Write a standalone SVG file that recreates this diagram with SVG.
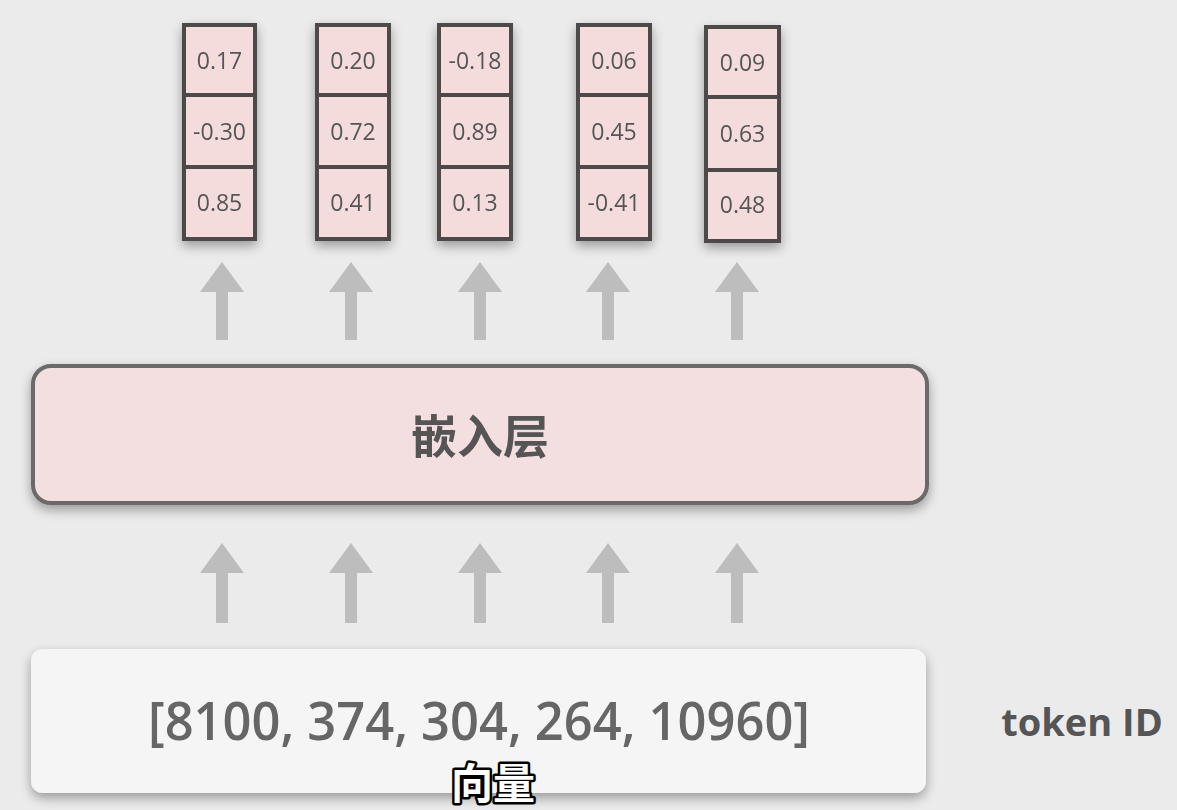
<svg xmlns="http://www.w3.org/2000/svg" width="1177" height="810" viewBox="0 0 1177 810">
<defs>
<filter id="sh" x="-20%" y="-20%" width="140%" height="150%">
<feGaussianBlur in="SourceAlpha" stdDeviation="6"/>
<feOffset dx="0" dy="5" result="b"/>
<feComponentTransfer><feFuncA type="linear" slope="0.35"/></feComponentTransfer>
<feMerge><feMergeNode/><feMergeNode in="SourceGraphic"/></feMerge>
</filter>
</defs>
<style>
.cell{fill:#f4dcdc;stroke:#4d4a4a;stroke-width:4}
.num{font-family:"Open Sans","Noto Sans",sans-serif;font-size:23px;font-weight:500;fill:#555;text-anchor:middle}
.ah{fill:#bdbdbd}
</style>
<rect width="1177" height="810" fill="#ebebeb"/>

<g id="connectors">
<g id="upper-arrows">
<rect x="216" y="290" width="12" height="50" class="ah"/><path d="M222 262 L244 292 L200 292 Z" class="ah"/>
<rect x="345" y="290" width="12" height="50" class="ah"/><path d="M351 262 L373 292 L329 292 Z" class="ah"/>
<rect x="474" y="290" width="12" height="50" class="ah"/><path d="M480 262 L502 292 L458 292 Z" class="ah"/>
<rect x="602" y="290" width="12" height="50" class="ah"/><path d="M608 262 L630 292 L586 292 Z" class="ah"/>
<rect x="731" y="290" width="12" height="50" class="ah"/><path d="M737 262 L759 292 L715 292 Z" class="ah"/>
</g>
<g id="lower-arrows">
<rect x="216" y="571" width="12" height="52" class="ah"/><path d="M222 543 L244 573 L200 573 Z" class="ah"/>
<rect x="345" y="571" width="12" height="52" class="ah"/><path d="M351 543 L373 573 L329 573 Z" class="ah"/>
<rect x="474" y="571" width="12" height="52" class="ah"/><path d="M480 543 L502 573 L458 573 Z" class="ah"/>
<rect x="602" y="571" width="12" height="52" class="ah"/><path d="M608 543 L630 573 L586 573 Z" class="ah"/>
<rect x="731" y="571" width="12" height="52" class="ah"/><path d="M737 543 L759 573 L715 573 Z" class="ah"/>
</g>
</g>

<g id="vec1" filter="url(#sh)">
<rect x="184" y="25" width="71" height="70" class="cell"/>
<rect x="184" y="95" width="71" height="72" class="cell"/>
<rect x="184" y="167" width="71" height="72" class="cell"/>
<text x="219.5" y="69" class="num">0.17</text>
<text x="219.5" y="140" class="num">-0.30</text>
<text x="219.5" y="211" class="num">0.85</text>
</g>
<g id="vec2" filter="url(#sh)">
<rect x="317" y="25" width="72" height="70" class="cell"/>
<rect x="317" y="95" width="72" height="72" class="cell"/>
<rect x="317" y="167" width="72" height="72" class="cell"/>
<text x="353" y="69" class="num">0.20</text>
<text x="353" y="140" class="num">0.72</text>
<text x="353" y="211" class="num">0.41</text>
</g>
<g id="vec3" filter="url(#sh)">
<rect x="439" y="25" width="72" height="70" class="cell"/>
<rect x="439" y="95" width="72" height="72" class="cell"/>
<rect x="439" y="167" width="72" height="72" class="cell"/>
<text x="475" y="69" class="num">-0.18</text>
<text x="475" y="140" class="num">0.89</text>
<text x="475" y="211" class="num">0.13</text>
</g>
<g id="vec4" filter="url(#sh)">
<rect x="578" y="25" width="72" height="70" class="cell"/>
<rect x="578" y="95" width="72" height="72" class="cell"/>
<rect x="578" y="167" width="72" height="72" class="cell"/>
<text x="614" y="69" class="num">0.06</text>
<text x="614" y="140" class="num">0.45</text>
<text x="614" y="211" class="num">-0.41</text>
</g>
<g id="vec5" filter="url(#sh)">
<rect x="706" y="27" width="73" height="70" class="cell"/>
<rect x="706" y="97" width="73" height="73" class="cell"/>
<rect x="706" y="170" width="73" height="71" class="cell"/>
<text x="742.5" y="71" class="num">0.09</text>
<text x="742.5" y="142" class="num">0.63</text>
<text x="742.5" y="213" class="num">0.48</text>
</g>

<g id="embedding" filter="url(#sh)">
<rect x="33" y="366" width="894" height="137" rx="18" fill="#f3dfe0" stroke="#6b6b6b" stroke-width="4"/>
<text x="480" y="453" font-family="'Noto Sans CJK SC',sans-serif" font-weight="bold" font-size="46" fill="#555" text-anchor="middle">嵌入层</text>
</g>

<g id="tokens" filter="url(#sh)">
<rect x="31" y="649" width="895" height="144" rx="12" fill="#f5f5f5"/>
<text x="479" y="740" font-family="'Open Sans','Noto Sans',sans-serif" font-weight="600" font-size="52" fill="#666" text-anchor="middle" textLength="662" lengthAdjust="spacingAndGlyphs">[8100, 374, 304, 264, 10960]</text>
</g>

<g id="label">
<text x="1082" y="736" font-family="'Open Sans','Noto Sans',sans-serif" font-weight="bold" font-size="38" fill="#555" text-anchor="middle">token ID</text>
</g>

<g id="caption">
<text x="493" y="799" font-family="'Noto Sans CJK SC',sans-serif" font-weight="bold" font-size="42" fill="#fff" stroke="#000" stroke-width="5" paint-order="stroke" stroke-linejoin="round" text-anchor="middle">向量</text>
</g>
</svg>
